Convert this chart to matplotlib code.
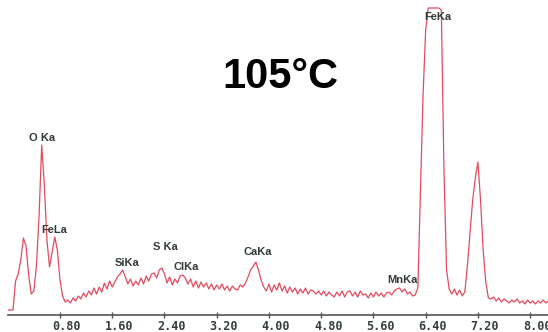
import numpy as np
import matplotlib.pyplot as plt
from matplotlib.transforms import ScaledTranslation

# EDS spectrum, channel width 0.04 keV, counts
energy_step = 0.04
counts = [
    0, 0, 0, 29, 36, 50, 72, 64, 35, 16,
    19, 45, 95, 165, 125, 70, 43, 58, 73, 60,
    30, 14, 8, 10, 7, 12, 9, 14, 11, 17,
    13, 19, 15, 22, 16, 23, 18, 27, 21, 29,
    23, 28, 33, 36, 40, 33, 26, 31, 24, 29,
    25, 32, 26, 34, 29, 36, 37, 32, 40, 42,
    36, 27, 33, 25, 31, 27, 34, 35, 32, 26,
    31, 23, 29, 22, 28, 23, 27, 21, 26, 20,
    25, 21, 26, 20, 24, 19, 24, 21, 20, 25,
    23, 27, 33, 40, 44, 48, 40, 30, 23, 19,
    26, 18, 25, 20, 27, 19, 24, 17, 23, 18,
    22, 16, 21, 17, 22, 16, 20, 19, 16, 19,
    15, 19, 14, 18, 15, 13, 18, 14, 19, 13,
    18, 19, 14, 18, 13, 19, 15, 16, 12, 17,
    13, 18, 14, 17, 13, 17, 18, 15, 19, 21,
    22, 18, 21, 16, 18, 14, 15, 22, 120, 215,
    280, 302, 302, 302, 302, 302, 300, 140, 40, 21,
    16, 21, 15, 20, 14, 18, 45, 77, 110, 132,
    148, 110, 60, 28, 12, 11, 13, 9, 12, 8,
    11, 9, 7, 10, 8, 11, 7, 9, 6, 10,
    7, 9, 6, 9, 7, 10, 7, 9,
]
energy = np.arange(len(counts)) * energy_step

# peak labels: text, energy (keV), height
peak_names = ["O Ka", "FeLa", "SiKa", "S Ka", "ClKa", "CaKa", "MnKa", "FeKa"]
peak_x = [0.52, 0.71, 1.83, 2.42, 2.73, 3.83, 6.05, 6.59]
peak_y = [172, 80, 47, 63, 43, 58, 30, 293]

tick_pos = [0.8, 1.6, 2.4, 3.2, 4.0, 4.8, 5.6, 6.4, 7.2, 8.0]
tick_labels = ["0.80", "1.60", "2.40", "3.20", "4.00", "4.80", "5.60", "6.40", "7.20", "8.00"]

fig = plt.figure(figsize=(5.48, 3.32), dpi=100)
ax = fig.add_axes([7.75 / 548, 17 / 332, 1 - 7.75 / 548, 315 / 332])

ax.plot(energy, counts, color="#e24a5e", lw=0.9)

for name, x, y in zip(peak_names, peak_x, peak_y):
    ax.text(x, y, name, ha="center", va="center", fontsize=8,
            fontweight="bold", family="Liberation Sans", color="#333a3a")

ax.set_xlim(0, (548 - 7.75) / 65.3)
ax.set_ylim(-5, 310)

for side in ["top", "right", "left"]:
    ax.spines[side].set_visible(False)
ax.spines["bottom"].set_color("#555555")
ax.spines["bottom"].set_linewidth(1.2)

ax.set_yticks([])
ax.set_xticks(tick_pos)
ax.set_xticklabels(tick_labels, family="DejaVu Sans Mono", fontweight="bold",
                   fontsize=8.5, color="#34403f")
ax.tick_params(axis="x", direction="inout", length=4, width=1, color="#555555", pad=1.5)
for lab in ax.get_xticklabels():
    lab.set_transform(lab.get_transform() + ScaledTranslation(7 / 100, 0, fig.dpi_scale_trans))

fig.text(280 / 548, 1 - 77 / 332, "105°C", ha="center", va="center",
         fontsize=30, fontweight="bold", family="Liberation Sans", color="black")

fig.savefig("out.png", dpi=100)
